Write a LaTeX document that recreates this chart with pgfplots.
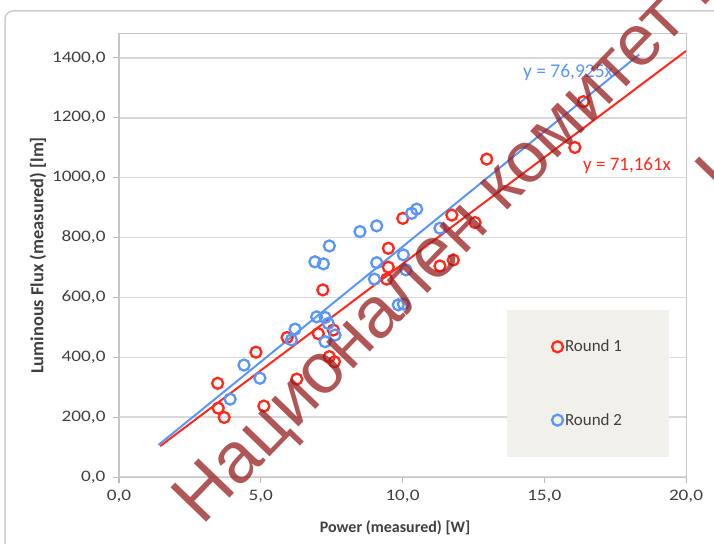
\documentclass[border=0pt]{standalone}
\usepackage{pgfplots}
\pgfplotsset{compat=1.18}
\usepackage{fontspec}
\setmainfont{Carlito}
\newfontfamily\tickfont{Carlito}[FakeStretch=1.2]
\newfontfamily\wmfont{Liberation Sans}
\definecolor{rred}{RGB}{255,40,25}
\definecolor{rblue}{RGB}{90,150,250}
\definecolor{wm}{RGB}{150,30,30}
\definecolor{legbg}{RGB}{242,240,234}
\definecolor{txt}{RGB}{64,64,64}
\begin{document}
\begin{tikzpicture}
\useasboundingbox (0,0) rectangle (714pt,543pt);
\begin{scope}
\clip (0,0) rectangle (714pt,543pt);
\draw[gray!40, line width=1.5pt, rounded corners=8pt] (5pt,-20pt) rectangle (760pt,532pt);
\begin{axis}[
  at={(119pt,66pt)}, anchor=south west,
  scale only axis, width=567pt, height=443pt,
  xmin=0, xmax=20, ymin=0, ymax=1480,
  xtick={0,5,10,15,20}, ytick={0,200,400,600,800,1000,1200,1400},
  xtick pos=left, ytick pos=left,
  tick align=outside, major tick length=6pt,
  tick style={draw=gray!55, line width=1pt},
  axis line style={draw=gray!45, line width=1pt},
  ymajorgrids, major grid style={draw=gray!30, line width=1.5pt},
  /pgf/number format/.cd, fixed, fixed zerofill, precision=1, use comma, 1000 sep={}, assume math mode=true,
  /pgfplots/.cd,
  ticklabel style={font=\tickfont\fontsize{16}{16}\selectfont, text=txt},
  xticklabel style={yshift=-4pt},
  yticklabel style={xshift=-4pt},
  xlabel={Power (measured) [W]},
  ylabel={Luminous Flux (measured) [lm]},
  xlabel style={font=\bfseries\fontsize{16}{16}\selectfont, text=txt, at={(axis description cs:0.487,-0.115)}, anchor=center},
  ylabel style={font=\bfseries\fontsize{18.4}{18.4}\selectfont, text=txt, at={(axis description cs:-0.143,0.5)}, anchor=center, rotate=0},
  legend cell align=left,
  legend style={at={(0.684,0.377)}, anchor=north west, fill=legbg, draw=none,
    inner xsep=45pt, inner ysep=28pt, row sep=56pt,
    font=\fontsize{17}{17}\selectfont, text=txt},
]
\addplot[only marks, mark=o, draw=rred, mark size=5.5pt, mark options={line width=2.3pt}] coordinates {
(3.48,313) (3.50,230) (3.71,199) (4.83,417) (5.11,237) (6.27,327) (5.93,466)
(7.03,479) (7.19,625) (7.56,491) (7.42,402) (7.60,385) (9.50,764) (9.50,701)
(9.44,661) (10.01,864) (12.97,1062) (11.74,875) (12.56,850) (11.32,705)
(11.79,725) (16.08,1101) (16.38,1254)
};
\addlegendentry{Round 1}
\addplot[only marks, mark=o, draw=rblue, mark size=5.5pt, mark options={line width=2.3pt}] coordinates {
(3.92,260) (4.41,374) (4.97,330) (6.08,458) (6.21,494) (6.97,535) (7.27,533)
(7.38,513) (7.62,474) (7.27,452) (6.91,719) (7.21,712) (7.42,772) (8.50,820)
(9.09,839) (9.09,716) (9.01,661) (10.03,742) (10.12,692) (9.85,575)
(10.03,578) (10.32,881) (10.50,895) (11.32,831)
};
\addlegendentry{Round 2}
\addplot[forget plot, draw=rred, line width=2pt] coordinates {(1.45,103.18) (20,1423.22)};
\addplot[forget plot, draw=rblue, line width=2pt] coordinates {(1.39,106.93) (18.35,1411.57)};
\node[text=rblue, font=\fontsize{19.5}{19.5}\selectfont] at (axis cs:15.84,1350) {y = 76,925x};
\node[text=rred, font=\fontsize{19}{19}\selectfont] at (axis cs:17.92,1039) {y = 71,161x};
\end{axis}
\node[rotate=46, anchor=base west, text=wm, opacity=0.75, font=\wmfont\fontsize{72}{72}\selectfont] at (200pt,14pt) {Национален комитет по осветление};
\node[rotate=46, anchor=base west, text=wm, opacity=0.75, font=\wmfont\fontsize{72}{72}\selectfont] at (724pt,340pt) {Национален комитет};
\end{scope}
\end{tikzpicture}
\end{document}
